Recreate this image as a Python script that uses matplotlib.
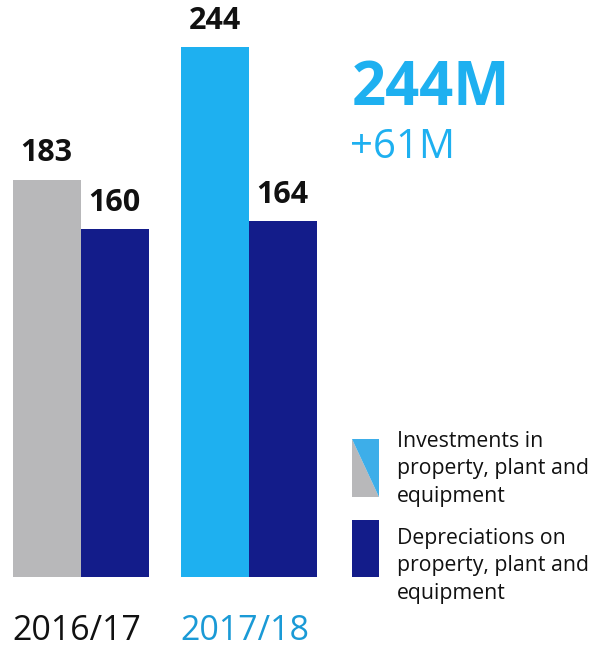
import matplotlib
matplotlib.use("Agg")
import matplotlib.pyplot as plt
import numpy as np
from matplotlib.patches import Polygon
from matplotlib.transforms import blended_transform_factory

plt.rcParams['font.family'] = ['Open Sans', 'DejaVu Sans']

# data (EUR million)
years = ['2016/17', '2017/18']
investments = [183, 244]
depreciations = [160, 164]
headline = '244M'
delta = '+61M'
legend_labels = ['Investments in\nproperty, plant and\nequipment',
                 'Depreciations on\nproperty, plant and\nequipment']

gray = '#b8b8ba'
cyan = '#1eb0f0'
cyan_text = '#1a9ad6'
navy = '#131c8a'
legend_cyan = '#3daee9'
ink = '#111111'

fig = plt.figure(figsize=(5.96, 6.49), dpi=100)
W, H = 596, 649
ax = fig.add_axes([0, 72 / H, 1, 530 / H])

x = np.arange(len(years))
w = 68 / 168
ax.bar(x - w / 2, investments, w, color=[gray, cyan], linewidth=0)
ax.bar(x + w / 2, depreciations, w, color=navy, linewidth=0)

for xs, vals in ((x - w / 2, investments), (x + w / 2, depreciations)):
    for xi, v in zip(xs, vals):
        ax.annotate(str(v), (xi, v), xytext=(0, 13), textcoords='offset points',
                    ha='center', va='baseline', fontsize=22, fontweight='bold',
                    color=ink)

ax.set_xlim(-80.5 / 168, (W - 80.5) / 168)
ax.set_ylim(0, max(investments))
ax.set_xticks([])
ax.set_yticks([])
for s in ax.spines.values():
    s.set_visible(False)

# year labels under each group
tr = blended_transform_factory(ax.transData, ax.transAxes)
for xi, yr, c in zip(x, years, [ink, cyan_text]):
    ax.text(xi - 0.02, -71 / 530, yr, transform=tr, ha='center', va='bottom',
            fontsize=24.5, color=c)

fig.text(352 / W, 1 - 105 / H, headline, fontsize=43, fontweight='bold',
         color=cyan, ha='left', va='baseline')
fig.text(350 / W, 1 - 158 / H, delta, fontsize=29, color=cyan,
         ha='left', va='baseline')

# legend swatches
sw1 = fig.add_axes([352 / W, 1 - 497 / H, 27 / W, 58 / H])
sw1.add_patch(Polygon([[0, 1], [0, 0], [1, 0]], closed=True,
                      facecolor=gray, edgecolor='none'))
sw1.add_patch(Polygon([[0, 1], [1, 1], [1, 0]], closed=True,
                      facecolor=legend_cyan, edgecolor='none'))
sw2 = fig.add_axes([352 / W, 1 - 577 / H, 27 / W, 57 / H])
sw2.set_facecolor(navy)
for a in (sw1, sw2):
    a.set_xlim(0, 1)
    a.set_ylim(0, 1)
    a.set_xticks([])
    a.set_yticks([])
    for s in a.spines.values():
        s.set_visible(False)

for label, ytop in zip(legend_labels, [431, 528]):
    fig.text(397 / W, 1 - ytop / H, label, fontsize=15.3, color=ink,
             ha='left', va='top', linespacing=1.4)

fig.savefig('out.png', dpi=100)
